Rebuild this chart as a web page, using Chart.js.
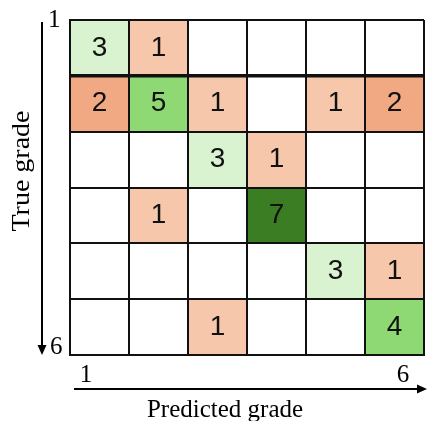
<!DOCTYPE html>
<html>
<head>
<meta charset="utf-8">
<script src="https://cdn.jsdelivr.net/npm/chart.js@4/dist/chart.umd.min.js"></script>
<style>
  html, body { margin: 0; padding: 0; background: #fff; }
  #wrap { width: 427px; height: 421px; }
</style>
</head>
<body>
<div id="wrap"><canvas id="chart"></canvas></div>
<script>
// grades 1..6, rows = true grade, columns = predicted grade
const grades = ['1', '2', '3', '4', '5', '6'];
const trueGrade1 = [3, 1, 0, 0, 0, 0];
const trueGrade2 = [2, 5, 1, 0, 1, 2];
const trueGrade3 = [0, 0, 3, 1, 0, 0];
const trueGrade4 = [0, 1, 0, 7, 0, 0];
const trueGrade5 = [0, 0, 0, 0, 3, 1];
const trueGrade6 = [0, 0, 1, 0, 0, 4];
const counts = [trueGrade1, trueGrade2, trueGrade3, trueGrade4, trueGrade5, trueGrade6];
const axisEnds = ['1', '6'];

function cellColor(v, diag) {
  if (!v) return '#ffffff';
  if (diag) return v >= 7 ? '#3a7d22' : v >= 4 ? '#8ed973' : '#d9f2d0';
  return v >= 2 ? '#f1a983' : '#f7c7ac';
}

const datasets = counts.map((row, r) => ({
  label: 'True ' + grades[r],
  data: row.map(() => [r, r + 1]),
  counts: row,
  backgroundColor: row.map((v, c) => cellColor(v, r === c)),
  borderWidth: 0,
  barPercentage: 1,
  categoryPercentage: 1,
  grouped: false,
}));

function arrow(ctx, x1, y1, x2, y2) {
  const a = Math.atan2(y2 - y1, x2 - x1);
  const len = 10, half = 4.5;
  ctx.beginPath();
  ctx.moveTo(x1, y1);
  ctx.lineTo(x2 - len * Math.cos(a), y2 - len * Math.sin(a));
  ctx.stroke();
  ctx.beginPath();
  ctx.moveTo(x2, y2);
  ctx.lineTo(x2 - len * Math.cos(a) - half * Math.sin(a), y2 - len * Math.sin(a) + half * Math.cos(a));
  ctx.lineTo(x2 - len * Math.cos(a) + half * Math.sin(a), y2 - len * Math.sin(a) - half * Math.cos(a));
  ctx.closePath();
  ctx.fill();
}

const decorations = {
  id: 'decorations',
  afterDraw(chart) {
    const ctx = chart.ctx;
    const area = chart.chartArea;
    ctx.save();
    // cell counts
    ctx.font = '28px "Liberation Sans", Arial, sans-serif';
    ctx.fillStyle = '#111';
    ctx.textAlign = 'center';
    ctx.textBaseline = 'middle';
    chart.data.datasets.forEach((ds, i) => {
      chart.getDatasetMeta(i).data.forEach((bar, j) => {
        const v = ds.counts[j];
        if (!v) return;
        const p = bar.getCenterPoint();
        ctx.fillText(String(v), p.x, p.y);
      });
    });

    // axis arrows
    ctx.strokeStyle = '#000';
    ctx.fillStyle = '#000';
    ctx.lineWidth = 2;
    arrow(ctx, area.left - 28, area.top + 2, area.left - 28, area.bottom);
    arrow(ctx, area.left + 4, area.bottom + 34, area.right + 3, area.bottom + 34);

    ctx.font = '25px "Liberation Serif", "Times New Roman", serif';
    ctx.textBaseline = 'middle';
    ctx.textAlign = 'left';
    ctx.fillText(axisEnds[0], area.left - 22, area.top);
    ctx.fillText(axisEnds[1], area.left - 20, area.bottom - 8);
    ctx.textAlign = 'center';
    ctx.fillText(axisEnds[0], area.left + 16, area.bottom + 20);
    ctx.fillText(axisEnds[1], area.right - 21, area.bottom + 20);

    ctx.fillText('Predicted grade', area.left + 155, area.bottom + 55);
    ctx.translate(area.left - 48, area.top + 151);
    ctx.rotate(-Math.PI / 2);
    ctx.scale(1.12, 1);
    ctx.fillText('True grade', 0, 0);
    ctx.restore();
  }
};

new Chart(document.getElementById('chart'), {
  type: 'bar',
  data: { labels: grades, datasets: datasets },
  options: {
    responsive: true,
    maintainAspectRatio: false,
    animation: false,
    layout: { padding: { left: 70, top: 20, right: 3, bottom: 66 } },
    plugins: { legend: { display: false }, tooltip: { enabled: false } },
    scales: {
      x: {
        type: 'category',
        offset: true,
        ticks: { display: false },
        grid: { z: 1, offset: true, color: '#111', lineWidth: 2, drawTicks: false },
        border: { z: 1, display: true, color: '#111', width: 2 },
      },
      y: {
        type: 'linear',
        min: 0,
        max: 6,
        reverse: true,
        ticks: { display: false, stepSize: 1 },
        grid: {
          z: 1,
          color: '#111',
          lineWidth: (c) => (c.tick && c.tick.value === 1 ? 3.5 : 2),
          drawTicks: false,
        },
        border: { z: 1, display: true, color: '#111', width: 2 },
      },
    },
  },
  plugins: [decorations],
});
</script>
</body>
</html>
